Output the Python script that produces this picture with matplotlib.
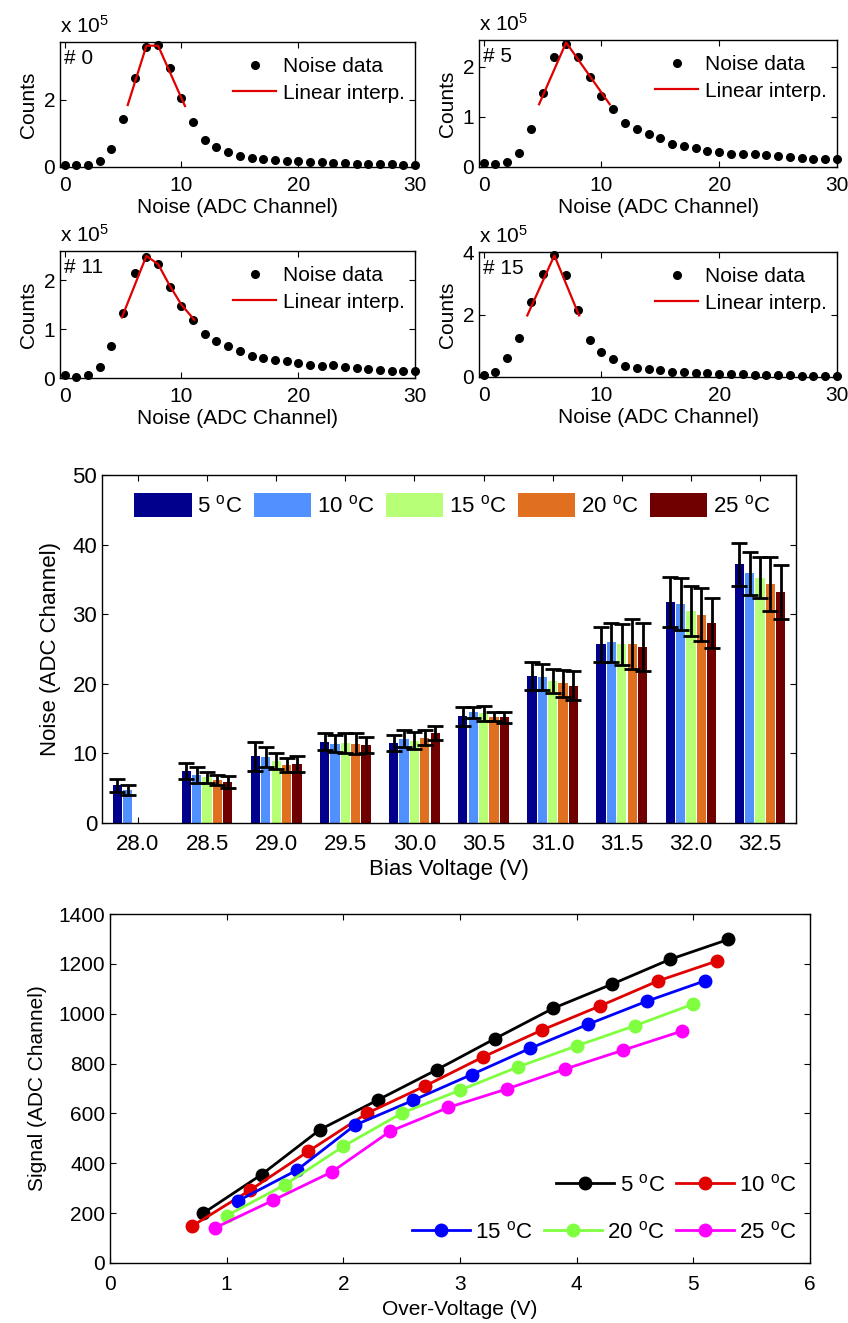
import numpy as np
import matplotlib
matplotlib.use('Agg')
import matplotlib.pyplot as plt

plt.rcParams['font.family'] = ['Liberation Sans', 'DejaVu Sans']
plt.rcParams['mathtext.fontset'] = 'custom'
plt.rcParams['mathtext.rm'] = 'Liberation Sans'
plt.rcParams['mathtext.it'] = 'Liberation Sans:italic'
plt.rcParams['axes.linewidth'] = 1.0

# ---- noise histograms (counts in units of 1e5) ----
noise_ch = np.arange(31)
counts_0 = [0.05, 0.05, 0.05, 0.18, 0.55, 1.42, 2.65, 3.58, 3.63, 2.95, 2.05, 1.35, 0.82, 0.60, 0.45, 0.34,
            0.28, 0.24, 0.20, 0.18, 0.17, 0.15, 0.14, 0.12, 0.12, 0.10, 0.09, 0.09, 0.08, 0.06, 0.06]
counts_5 = [0.07, 0.05, 0.09, 0.28, 0.75, 1.48, 2.19, 2.45, 2.19, 1.79, 1.42, 1.15, 0.88, 0.75, 0.65, 0.57,
            0.45, 0.41, 0.37, 0.32, 0.30, 0.25, 0.25, 0.25, 0.23, 0.21, 0.20, 0.18, 0.15, 0.15, 0.15]
counts_11 = [0.07, 0.02, 0.07, 0.23, 0.66, 1.34, 2.14, 2.48, 2.33, 1.86, 1.48, 1.18, 0.90, 0.75, 0.66, 0.56,
             0.46, 0.41, 0.36, 0.34, 0.30, 0.26, 0.25, 0.26, 0.23, 0.21, 0.19, 0.16, 0.15, 0.15, 0.15]
counts_15 = [0.07, 0.16, 0.61, 1.25, 2.39, 3.31, 3.89, 3.25, 2.13, 1.17, 0.80, 0.58, 0.36, 0.29, 0.26, 0.21,
             0.16, 0.15, 0.13, 0.13, 0.10, 0.10, 0.10, 0.05, 0.05, 0.05, 0.05, 0.02, 0.02, 0.02, 0.02]

fit_x_0 = [5.4, 7.0, 8.0, 10.3]
fit_y_0 = [1.85, 3.62, 3.62, 1.82]
fit_x_5 = [4.7, 7.0, 10.7]
fit_y_5 = [1.25, 2.48, 1.25]
fit_x_11 = [4.9, 7.0, 8.0, 9.0, 10.0, 11.1]
fit_y_11 = [1.24, 2.50, 2.33, 1.89, 1.50, 1.19]
fit_x_15 = [3.7, 6.0, 8.1]
fit_y_15 = [1.97, 3.89, 1.97]

# ---- bar chart ----
bias_labels = ['28.0', '28.5', '29.0', '29.5', '30.0', '30.5', '31.0', '31.5', '32.0', '32.5']
temps = ['5 $^\\mathrm{o}$C', '10 $^\\mathrm{o}$C', '15 $^\\mathrm{o}$C', '20 $^\\mathrm{o}$C', '25 $^\\mathrm{o}$C']
noise_5 = [5.4, 7.45, 9.6, 11.7, 11.5, 15.35, 21.1, 25.7, 31.7, 37.15]
noise_10 = [4.75, 6.9, 9.5, 11.4, 12.1, 15.9, 21.0, 25.95, 31.45, 35.85]
noise_15 = [np.nan, 6.55, 8.85, 11.45, 11.85, 15.75, 20.4, 25.65, 30.45, 35.25]
noise_20 = [np.nan, 6.2, 8.35, 11.4, 12.25, 15.3, 20.05, 25.7, 29.9, 34.3]
noise_25 = [np.nan, 5.9, 8.45, 11.15, 12.9, 15.2, 19.75, 25.25, 28.75, 33.2]
err_5 = [0.9, 1.15, 2.1, 1.2, 1.1, 1.35, 2.0, 2.5, 3.6, 3.15]
err_10 = [0.75, 1.1, 1.4, 1.2, 1.2, 0.8, 1.9, 2.75, 3.75, 3.05]
err_15 = [np.nan, 0.75, 1.15, 1.45, 1.25, 1.05, 1.7, 2.95, 3.65, 2.95]
err_20 = [np.nan, 0.7, 1.05, 1.5, 1.05, 0.7, 1.95, 3.6, 3.8, 3.9]
err_25 = [np.nan, 0.8, 1.15, 1.15, 1.0, 0.8, 2.05, 3.45, 3.55, 3.9]
bar_colors = ['#00008c', '#5090ff', '#b8ff78', '#e07020', '#700000']

# ---- signal vs over-voltage ----
ov_5 = [0.8, 1.3, 1.8, 2.3, 2.8, 3.3, 3.8, 4.3, 4.8, 5.3]
sig_5 = [200, 355, 535, 655, 775, 900, 1022, 1118, 1218, 1298]
ov_10 = [0.7, 1.2, 1.7, 2.2, 2.7, 3.2, 3.7, 4.2, 4.7, 5.2]
sig_10 = [147, 292, 448, 600, 710, 827, 934, 1031, 1132, 1211]
ov_15 = [1.1, 1.6, 2.1, 2.6, 3.1, 3.6, 4.1, 4.6, 5.1]
sig_15 = [250, 372, 553, 653, 756, 861, 958, 1050, 1132]
ov_20 = [1.0, 1.5, 2.0, 2.5, 3.0, 3.5, 4.0, 4.5, 5.0]
sig_20 = [190, 314, 468, 601, 693, 787, 871, 952, 1039]
ov_25 = [0.9, 1.4, 1.9, 2.4, 2.9, 3.4, 3.9, 4.4, 4.9]
sig_25 = [141, 252, 365, 528, 624, 698, 778, 854, 930]
line_colors = ['black', '#e00000', '#0000ff', '#80ff40', '#ff00ff']

W, H = 848, 1323
fig = plt.figure(figsize=(W / 100, H / 100), dpi=100)


def px_rect(left, top, right, bottom):
    return [left / W, 1 - bottom / H, (right - left) / W, (bottom - top) / H]


def style(ax, size, xpad):
    ax.tick_params(direction='in', top=True, right=True, length=4, width=0.8, labelsize=size)
    ax.tick_params(axis='x', pad=xpad)


def hist_panel(rect, tag, counts, fx, fy, ymax, yticks):
    ax = fig.add_axes(rect)
    ax.plot(noise_ch, counts, 'o', color='k', ms=5.5, clip_on=False, label='Noise data', zorder=3)
    ax.plot(fx, fy, '-', color='#e00000', lw=1.6, label='Linear interp.', zorder=4)
    ax.set_xlim(-0.4, 30)
    ax.set_ylim(0, ymax)
    ax.set_xticks([0, 10, 20, 30])
    ax.set_yticks(yticks)
    style(ax, 15, 6.5)
    ax.set_xlabel('Noise (ADC Channel)', fontsize=15, labelpad=2)
    ax.set_ylabel('Counts', fontsize=15, labelpad=4)
    ax.text(0.0, 1.04, 'x 10$^5$', transform=ax.transAxes, ha='left', va='bottom', fontsize=15)
    ax.text(0.01, 0.87, tag, transform=ax.transAxes, ha='left', va='center', fontsize=15)
    ax.legend(loc='upper right', bbox_to_anchor=(1.0, 0.96), frameon=False, fontsize=15,
              handlelength=2.1, handletextpad=0.3, borderpad=0.2, borderaxespad=0.3, labelspacing=0.35)


hist_panel(px_rect(60, 42, 415, 167), '# 0', counts_0, fit_x_0, fit_y_0, 3.73, [0, 2])
hist_panel(px_rect(479, 40, 837, 167), '# 5', counts_5, fit_x_5, fit_y_5, 2.53, [0, 1, 2])
hist_panel(px_rect(60, 251, 415, 378), '# 11', counts_11, fit_x_11, fit_y_11, 2.6, [0, 1, 2])
hist_panel(px_rect(479, 252, 837, 377), '# 15', counts_15, fit_x_15, fit_y_15, 4.0, [0, 2, 4])

# bar chart
ax = fig.add_axes(px_rect(102, 475, 796, 823))
pos = np.arange(len(bias_labels))
series = [(noise_5, err_5), (noise_10, err_10), (noise_15, err_15), (noise_20, err_20), (noise_25, err_25)]
bw = 0.15
for i, (vals, errs) in enumerate(series):
    xs = pos + (i - 2) * bw
    ax.bar(xs, vals, width=0.135, color=bar_colors[i], label=temps[i], zorder=2)
    ax.errorbar(xs, vals, yerr=errs, fmt='none', ecolor='k', elinewidth=2, capsize=6,
                capthick=2, zorder=3)
ax.set_xlim(-0.52, 9.52)
ax.set_ylim(0, 50)
ax.set_xticks(pos)
ax.set_xticklabels(bias_labels)
ax.set_yticks(range(0, 51, 10))
style(ax, 16, 8)
ax.set_xlabel('Bias Voltage (V)', fontsize=16, labelpad=3)
ax.set_ylabel('Noise (ADC Channel)', fontsize=16, labelpad=8)
ax.legend(loc='upper left', bbox_to_anchor=(0.046, 0.948), ncol=5, frameon=False, fontsize=16,
          handlelength=2.6, handleheight=1.26, handletextpad=0.25, columnspacing=0.5,
          borderpad=0, borderaxespad=0)

# line chart
ax = fig.add_axes(px_rect(110, 914, 810, 1263))
lines_data = [(ov_5, sig_5), (ov_10, sig_10), (ov_15, sig_15), (ov_20, sig_20), (ov_25, sig_25)]
handles = []
for i, (xv, yv) in enumerate(lines_data):
    h, = ax.plot(xv, yv, '-o', color=line_colors[i], lw=2, ms=9, label=temps[i])
    handles.append(h)
ax.set_xlim(0, 6)
ax.set_ylim(0, 1400)
ax.set_xticks(range(0, 7))
ax.set_yticks(range(0, 1401, 200))
style(ax, 15, 9)
ax.set_xlabel('Over-Voltage (V)', fontsize=15, labelpad=4)
ax.set_ylabel('Signal (ADC Channel)', fontsize=15, labelpad=8)
leg1 = ax.legend(handles=handles[:2], loc='center right', bbox_to_anchor=(0.981, 0.2235), ncol=2,
                 frameon=False, fontsize=16, handlelength=2.6, handletextpad=0.25, columnspacing=0.5,
                 borderpad=0, borderaxespad=0)
ax.add_artist(leg1)
ax.legend(handles=handles[2:], loc='center right', bbox_to_anchor=(0.981, 0.0888), ncol=3,
          frameon=False, fontsize=16, handlelength=2.6, handletextpad=0.25, columnspacing=0.5,
          borderpad=0, borderaxespad=0)

fig.savefig('out.png', dpi=100)
